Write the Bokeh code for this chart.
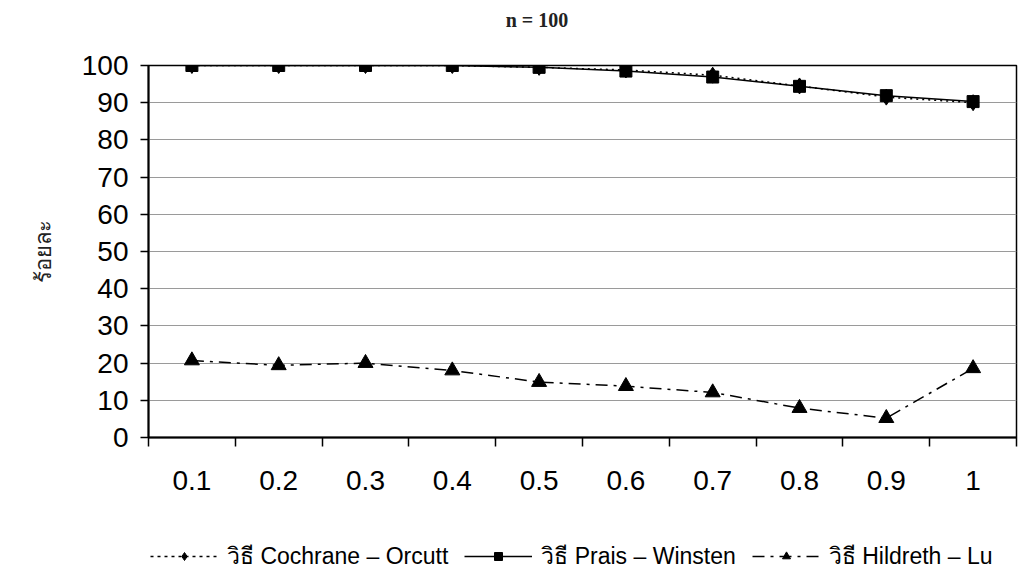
from bokeh.plotting import figure
from bokeh.layouts import column
from bokeh.models import FixedTicker, Legend, LegendItem, Range1d, ColumnDataSource, Div
from bokeh.embed import file_html
from bokeh.resources import INLINE

# ---- data ----
categories = ["0.1", "0.2", "0.3", "0.4", "0.5", "0.6", "0.7", "0.8", "0.9", "1"]
cochrane = [100, 100, 100, 100, 99.5, 98.8, 97.4, 94.5, 91.5, 90.0]
prais = [100, 100, 100, 100, 99.5, 98.5, 96.9, 94.4, 91.9, 90.3]
hildreth = [20.7, 19.4, 20.0, 18.0, 14.9, 13.8, 12.1, 7.9, 5.2, 18.6]
y_ticks = [0, 10, 20, 30, 40, 50, 60, 70, 80, 90, 100]
title_text = "n = 100"
y_label = "ร้อยละ"
legend_labels = ["วิธี Cochrane – Orcutt", "วิธี Prais – Winsten", "วิธี Hildreth – Lu"]

xpos = [i + 1 for i in range(len(categories))]
src = ColumnDataSource(dict(x=xpos, co=cochrane, pw=prais, hl=hildreth))

header = Div(text=title_text, width=1026, height=40, margin=(0, 0, 0, 0),
             styles={"font-family": "Liberation Serif", "font-weight": "bold",
                     "font-size": "20px", "color": "#222222", "text-align": "center",
                     "padding-top": "6px", "padding-left": "48px", "box-sizing": "border-box",
                     "width": "1026px"})

p = figure(width=1026, height=460, output_backend="svg", toolbar_location=None,
           x_range=Range1d(0.5, len(categories) + 0.5), y_range=Range1d(0, 100),
           min_border_left=148, min_border_right=10, min_border_top=25, min_border_bottom=63)

p.background_fill_color = "white"
p.border_fill_color = "white"
p.outline_line_color = "black"
p.outline_line_width = 1.5

# x axis
p.xaxis.ticker = FixedTicker(ticks=xpos, minor_ticks=[x - 0.5 for x in xpos] + [xpos[-1] + 0.5])
p.xaxis.major_label_overrides = {x: c for x, c in zip(xpos, categories)}
p.xaxis.major_tick_out = 0
p.xaxis.major_tick_in = 0
p.xaxis.minor_tick_out = 9
p.xaxis.minor_tick_in = 0
p.xaxis.minor_tick_line_color = "black"
p.xaxis.minor_tick_line_width = 1.5
p.xaxis.axis_line_color = "black"
p.xaxis.axis_line_width = 2
p.xaxis.major_label_standoff = 24
p.xaxis.major_label_text_font = "Liberation Sans"
p.xaxis.major_label_text_font_size = "28px"
p.xaxis.major_label_text_color = "black"
p.xgrid.visible = False

# y axis
p.yaxis.ticker = FixedTicker(ticks=y_ticks, minor_ticks=[])
p.yaxis.major_tick_out = 8
p.yaxis.major_tick_in = 0
p.yaxis.major_tick_line_color = "black"
p.yaxis.major_tick_line_width = 1.5
p.yaxis.axis_line_color = "black"
p.yaxis.axis_line_width = 2
p.yaxis.major_label_standoff = 12
p.yaxis.major_label_text_font = "Liberation Sans"
p.yaxis.major_label_text_font_size = "28px"
p.yaxis.major_label_text_color = "black"
p.yaxis.axis_label = y_label
p.yaxis.axis_label_text_font_size = "22px"
p.yaxis.axis_label_text_font_style = "normal"
p.yaxis.axis_label_text_color = "#222222"
p.yaxis.axis_label_standoff = 23
p.ygrid.grid_line_color = "#9a9a9a"
p.ygrid.grid_line_width = 1

# series styles
styles = [
    dict(line_dash="2 4", marker="diamond", size=16),
    dict(line_dash="solid", marker="square", size=12),
    dict(line_dash="12 6 3 6", marker="triangle", size=15),
]
cols = ["co", "pw", "hl"]
for c, st in zip(cols, styles):
    p.line("x", c, source=src, line_color="black", line_width=1.5, line_dash=st["line_dash"])
    p.scatter("x", c, source=src, marker=st["marker"], size=st["size"], color="black")

# legend strip (proxy glyphs with the same styles; data lies outside this strip's ranges)
lf = figure(width=1026, height=74, output_backend="svg", toolbar_location=None,
            x_range=Range1d(-0.5, 0), y_range=Range1d(-0.5, 0),
            x_axis_location=None, y_axis_location=None,
            min_border_left=0, min_border_right=0, min_border_top=0, min_border_bottom=0)
lf.outline_line_color = None
lf.xgrid.visible = False
lf.ygrid.visible = False
lf.background_fill_color = "white"
lf.border_fill_color = "white"

items = []
for lab, c, st in zip(legend_labels, cols, styles):
    lr = lf.line("x", c, source=src, line_color="black", line_width=1.5,
                 line_dash="3 4" if st["line_dash"] == "2 4" else st["line_dash"])
    mr = lf.scatter("x", c, source=src, marker=st["marker"], size=st["size"] - 2, color="black")
    items.append(LegendItem(label=lab, renderers=[lr, mr]))

legend = Legend(items=items, orientation="horizontal", location=(2, 0))
legend.glyph_width = 68
legend.glyph_height = 20
legend.label_standoff = 9
legend.spacing = 16
legend.border_line_color = None
legend.background_fill_alpha = 0
legend.label_text_font = "Liberation Sans"
legend.label_text_font_size = "23px"
legend.label_text_color = "black"
legend.margin = 0
legend.padding = 0
lf.add_layout(legend, "center")

layout = column(header, p, lf, spacing=0)
open("out.html", "w").write(file_html(layout, INLINE))
